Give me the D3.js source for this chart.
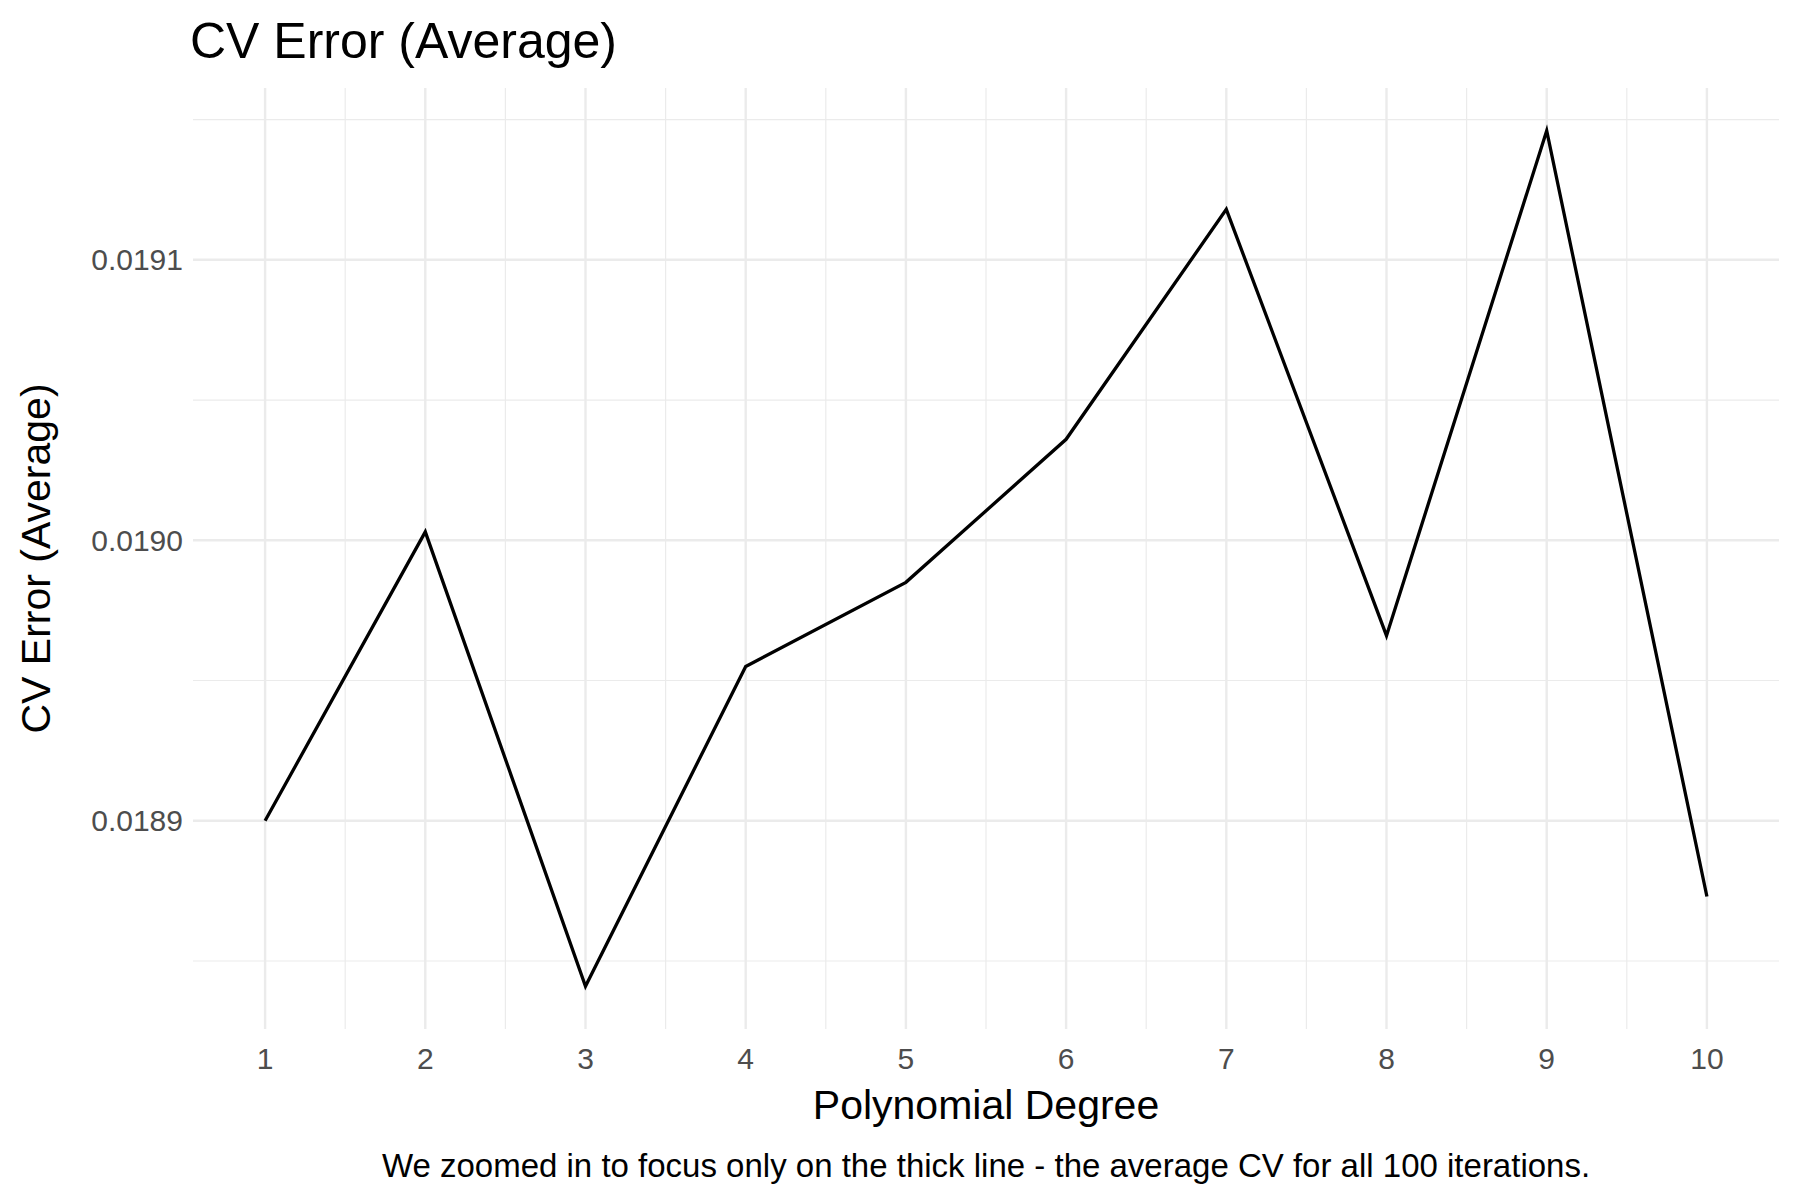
<!DOCTYPE html>
<html>
<head>
<meta charset="utf-8">
<script src="https://cdn.jsdelivr.net/npm/d3@7"></script>
<style>
  body { margin: 0; background: #fff; }
  text { font-family: "Liberation Sans", Arial, sans-serif; }
</style>
</head>
<body>
<div id="chart"></div>
<script>
// Data
const degrees = [1, 2, 3, 4, 5, 6, 7, 8, 9, 10];
const cvError = [0.018900, 0.019003, 0.018841, 0.018955, 0.018985, 0.019036, 0.019118, 0.018966, 0.019146, 0.018873];
const yTicks = [0.0189, 0.0190, 0.0191];
const yMinor = [0.01885, 0.01895, 0.01905, 0.01915];

const width = 1800, height = 1200;
const margin = { top: 88, right: 21, bottom: 171, left: 193 };
const pw = width - margin.left - margin.right;
const ph = height - margin.top - margin.bottom;

const svg = d3.select("#chart").append("svg")
    .attr("width", width)
    .attr("height", height);

const g = svg.append("g").attr("transform", `translate(${margin.left},${margin.top})`);

// ggplot-style 5% expansion
const xr = d3.extent(degrees), yr = d3.extent(cvError);
const xp = (xr[1] - xr[0]) * 0.05, yp = (yr[1] - yr[0]) * 0.05;
const x = d3.scaleLinear().domain([xr[0] - xp, xr[1] + xp]).range([0, pw]);
const y = d3.scaleLinear().domain([yr[0] - yp, yr[1] + yp]).range([ph, 0]);

// Minor grid
const xMinor = degrees.slice(0, -1).map(d => d + 0.5);
g.selectAll(".xminor").data(xMinor).enter().append("line")
    .attr("x1", d => x(d)).attr("x2", d => x(d))
    .attr("y1", 0).attr("y2", ph)
    .attr("stroke", "#ebebeb").attr("stroke-width", 1.2);
g.selectAll(".yminor").data(yMinor).enter().append("line")
    .attr("x1", 0).attr("x2", pw)
    .attr("y1", d => y(d)).attr("y2", d => y(d))
    .attr("stroke", "#ebebeb").attr("stroke-width", 1.2);

// Major grid
g.selectAll(".xmajor").data(degrees).enter().append("line")
    .attr("x1", d => x(d)).attr("x2", d => x(d))
    .attr("y1", 0).attr("y2", ph)
    .attr("stroke", "#ebebeb").attr("stroke-width", 2.4);
g.selectAll(".ymajor").data(yTicks).enter().append("line")
    .attr("x1", 0).attr("x2", pw)
    .attr("y1", d => y(d)).attr("y2", d => y(d))
    .attr("stroke", "#ebebeb").attr("stroke-width", 2.4);

// Line
g.append("path")
    .datum(degrees.map((d, i) => [d, cvError[i]]))
    .attr("fill", "none")
    .attr("stroke", "#000")
    .attr("stroke-width", 3.3)
    .attr("d", d3.line().x(d => x(d[0])).y(d => y(d[1])));

// Tick labels
g.selectAll(".xlab").data(degrees).enter().append("text")
    .attr("x", d => x(d)).attr("y", ph + 40)
    .attr("text-anchor", "middle")
    .attr("font-size", 30).attr("fill", "#4d4d4d")
    .text(d => d);
g.selectAll(".ylab").data(yTicks).enter().append("text")
    .attr("x", -10).attr("y", d => y(d)).attr("dy", "0.35em")
    .attr("text-anchor", "end")
    .attr("font-size", 30).attr("fill", "#4d4d4d")
    .text(d => d3.format(".4f")(d));

// Axis titles
g.append("text")
    .attr("x", pw / 2).attr("y", ph + 90)
    .attr("text-anchor", "middle")
    .attr("font-size", 41).attr("fill", "#000")
    .text("Polynomial Degree");
svg.append("text")
    .attr("transform", `translate(50,${margin.top + ph / 2}) rotate(-90)`)
    .attr("text-anchor", "middle")
    .attr("font-size", 41).attr("fill", "#000")
    .text("CV Error (Average)");

// Title
svg.append("text")
    .attr("x", 190).attr("y", 58)
    .attr("font-size", 50).attr("fill", "#000")
    .text("CV Error (Average)");

// Caption
svg.append("text")
    .attr("x", margin.left + pw / 2).attr("y", 1177)
    .attr("text-anchor", "middle")
    .attr("font-size", 33).attr("fill", "#000")
    .text("We zoomed in to focus only on the thick line - the average CV for all 100 iterations.");
</script>
</body>
</html>
